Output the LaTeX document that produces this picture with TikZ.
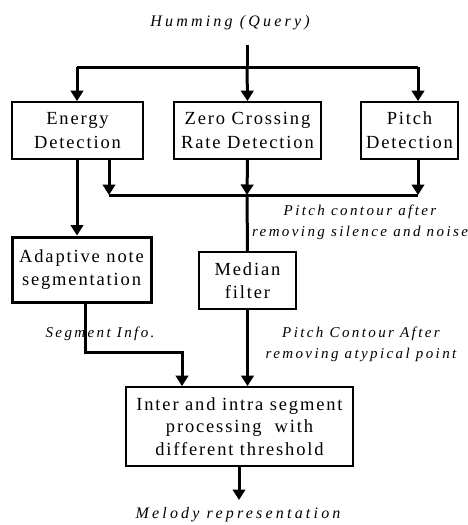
\documentclass[tikz,border=0pt]{standalone}
\usepackage{fontspec}
\setmainfont{Liberation Serif}
\newfontfamily\boxfont[LetterSpace=10]{Liberation Serif}
\newfontfamily\lblfont[LetterSpace=16]{Liberation Serif}
\newfontfamily\endfont[LetterSpace=20]{Liberation Serif}
\usetikzlibrary{arrows.meta}
\begin{document}
\begin{tikzpicture}[x=1pt,y=-1pt,
  block/.style={draw,line width=1.8pt,align=center,inner sep=0pt,
    font=\boxfont\fontsize{18.5}{24}\selectfont},
  lowblock/.style={block,font=\boxfont\fontsize{18.5}{22.5}\selectfont},
  thickblock/.style={lowblock,line width=3pt},
  lbl/.style={align=center,inner sep=0pt,
    font=\lblfont\itshape\fontsize{15}{21}\selectfont},
  endlbl/.style={inner sep=0pt,font=\endfont\itshape\fontsize{16}{21}\selectfont},
  wire/.style={line width=3pt},
  arr/.style={wire,-{Triangle[width=12.5pt,length=10.5pt]}}]
\useasboundingbox (0,0) rectangle (467,525);

% processing blocks
\node[block,minimum width=131pt,minimum height=57pt] (E) at (77.5,130.5) {Energy\\Detection};
\node[block,minimum width=147pt,minimum height=57pt] (Z) at (247.5,130.5) {Zero Crossing\\Rate Detection};
\node[block,minimum width=97pt,minimum height=57pt] (P) at (409.5,130.5) {Pitch\\Detection};
\node[thickblock,minimum width=139pt,minimum height=65pt] (A) at (81.5,269.5) {Adaptive note\\segmentation};
\node[lowblock,minimum width=97pt,minimum height=57pt] (M) at (247.5,280.5) {Median\\filter};
\node[lowblock,minimum width=227pt,minimum height=79pt] (I) at (239.5,426.5) {Inter and intra segment\\processing\ \ with\\different threshold};

% labels
\node[endlbl] (q) at (230,23) {Humming (Query)};
\node[lbl] (l1) at (360,222) {Pitch contour after\\removing silence and noise};
\node[lbl] (l2) at (100,334) {Segment Info.};
\node[lbl] (l3) at (361,344) {Pitch Contour After\\removing atypical point};
\node[endlbl] (out) at (238,515) {Melody representation};

% junction points
\coordinate (qs) at (247,45);
\coordinate (split) at (247,67);
\coordinate (sl) at (77,67);
\coordinate (sr) at (418,67);
\coordinate (bl) at (109,195);
\coordinate (bm) at (247,195);
\coordinate (br) at (418,195);
\coordinate (seg) at (85,352);
\coordinate (segr) at (182,352);
\coordinate (outtop) at (239,500);

% distribution of the query
\draw[wire] (qs) -- (split);
\draw[wire] (sl) -- (sr);
\draw[arr] (sl) -- (sl |- E.north);
\draw[arr] (split) -- (Z.north);
\draw[arr] (sr) -- (sr |- P.north);

% merge bus
\draw[arr] (bl |- E.south) -- (bl);
\draw[arr] (Z.south) -- (bm);
\draw[arr] (br |- P.south) -- (br);
\draw[wire] (bl) -- (br);
\draw[wire] (bm) -- (M.north);

% segmentation path
\draw[arr] (sl |- E.south) -- (sl |- A.north);
\draw[arr] (seg |- A.south) -- (seg) -- (segr) -- (segr |- I.north);
\draw[arr] (M.south) -- (M.south |- I.north);
\draw[arr] (outtop |- I.south) -- (outtop);
\end{tikzpicture}
\end{document}
